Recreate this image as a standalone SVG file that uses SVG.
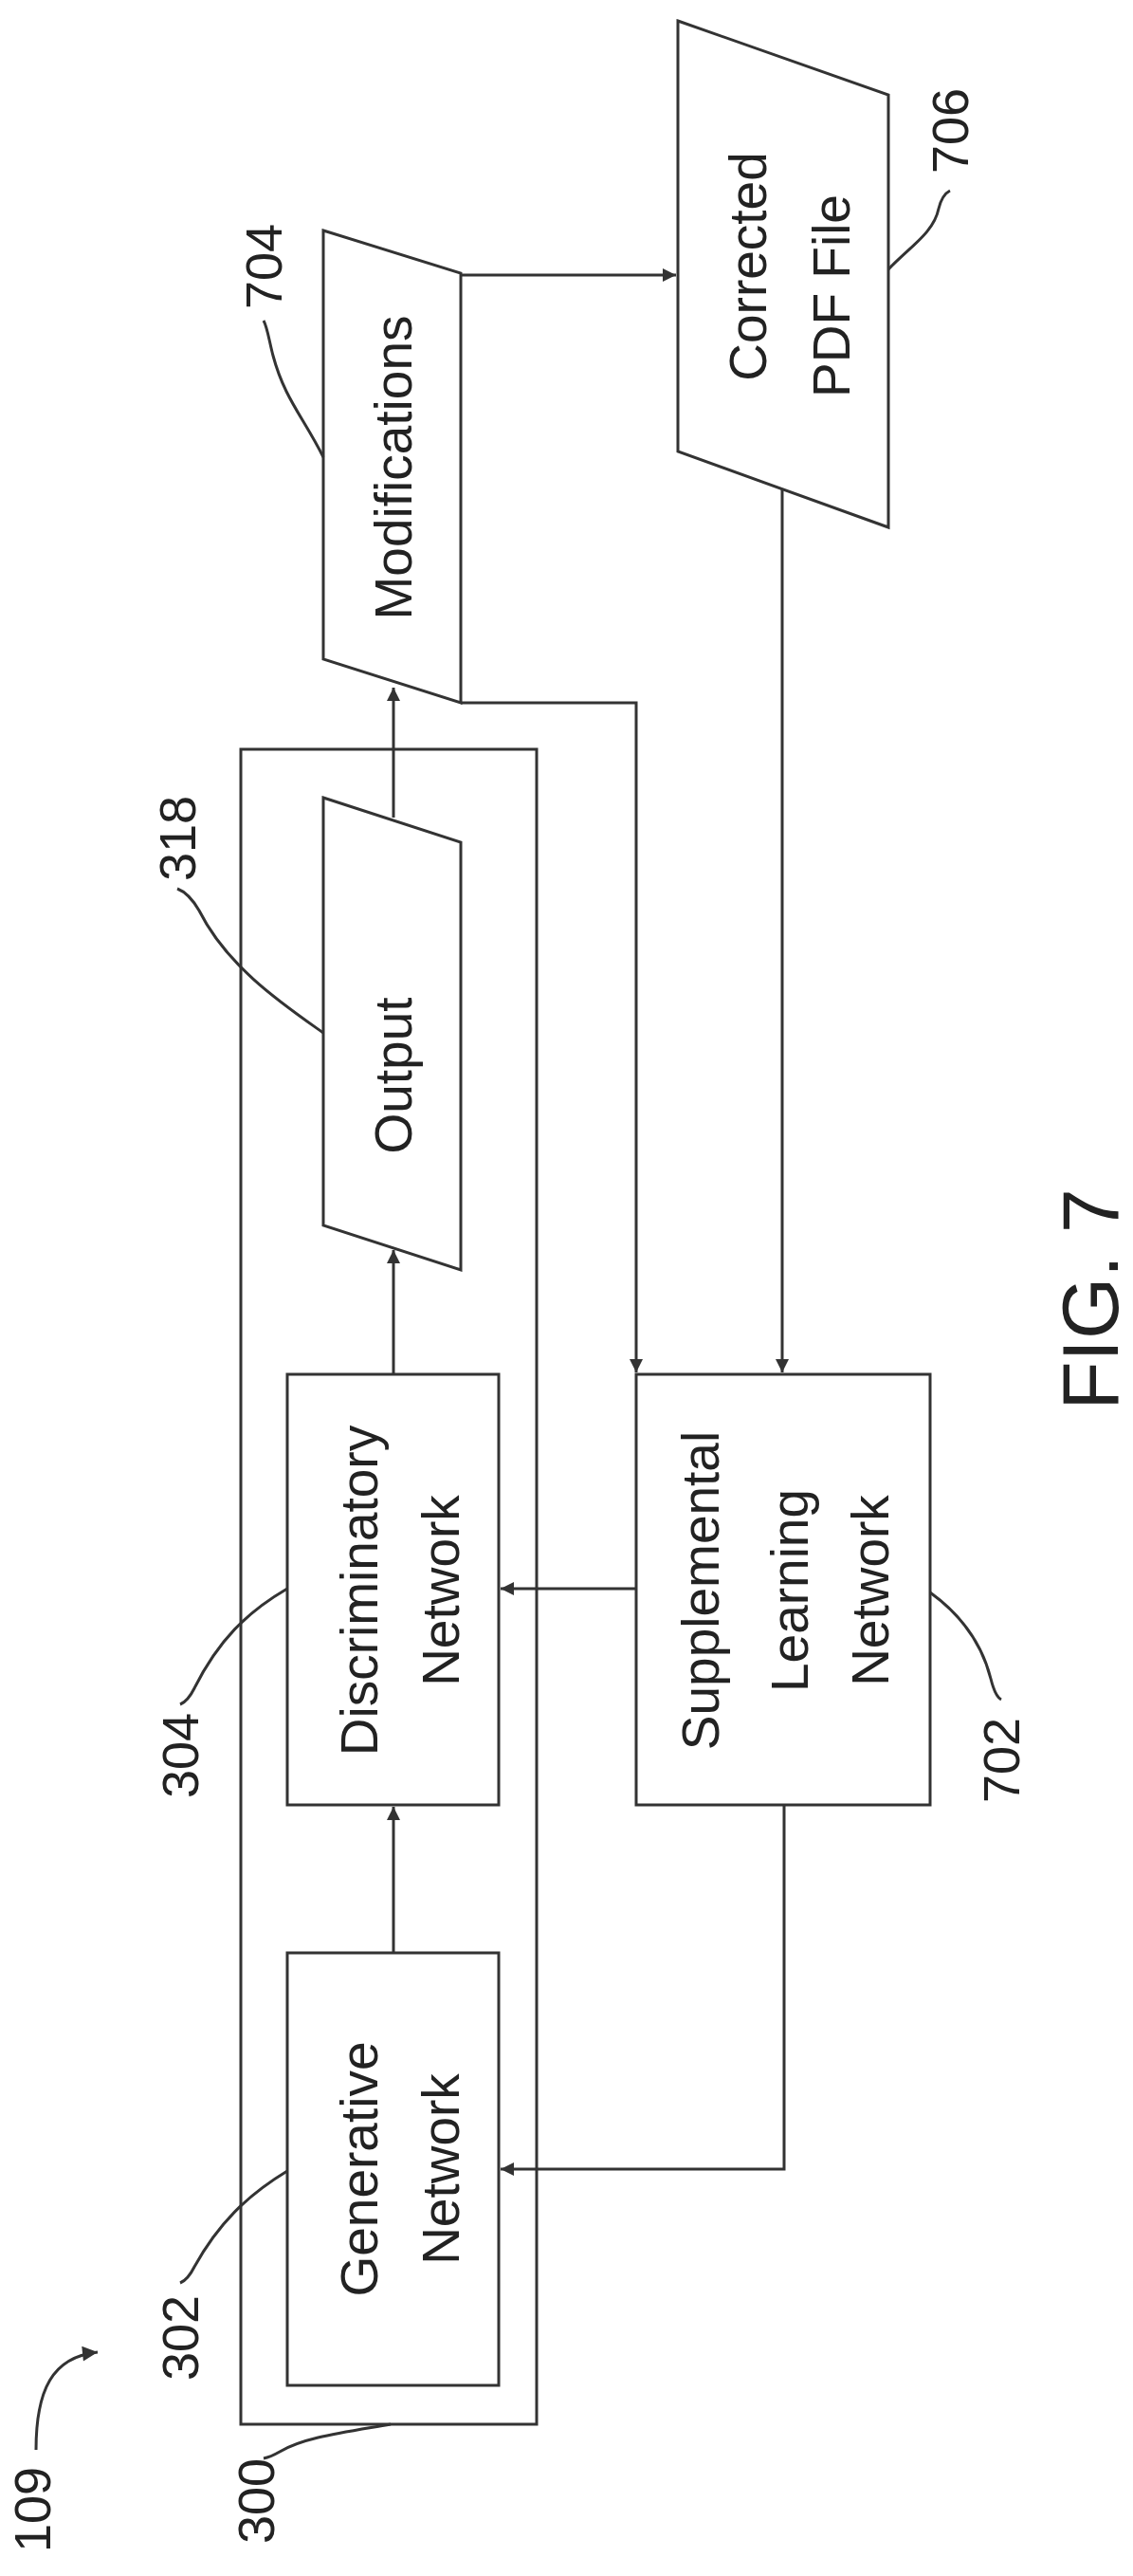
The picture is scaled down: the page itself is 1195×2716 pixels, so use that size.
<svg xmlns="http://www.w3.org/2000/svg" width="1195" height="2716" viewBox="0 0 1195 2716">
<style>
.s{fill:#fff;stroke:#333;stroke-width:3}
.l{fill:none;stroke:#333;stroke-width:3}
.t{font-family:"Liberation Sans",Arial,sans-serif;font-size:55px;fill:#222;text-anchor:middle;dominant-baseline:central}
.n{font-family:"Liberation Sans",Arial,sans-serif;font-size:54px;fill:#222;text-anchor:middle;dominant-baseline:central}
</style>
<defs>
<marker id="a" viewBox="0 0 10 10" refX="10" refY="5" markerWidth="22" markerHeight="16" orient="auto" markerUnits="userSpaceOnUse"><path d="M0,0 L10,5 L0,10 z" fill="#333"/></marker>
<marker id="b" viewBox="0 0 10 10" refX="10" refY="5" markerWidth="18" markerHeight="14" orient="auto" markerUnits="userSpaceOnUse"><path d="M0,0 L10,5 L0,10 z" fill="#333"/></marker>
</defs>
<g id="n300"><rect class="s" x="254" y="790" width="312" height="1766"/></g>
<g id="n318"><polygon class="s" points="341,841 486,888 486,1339 341,1292"/><text class="t" transform="translate(415,1134) rotate(-90)">Output</text></g>
<g id="n704"><polygon class="s" points="341,243 486,288 486,741 341,695"/><text class="t" transform="translate(415,493) rotate(-90)">Modifications</text></g>
<g id="n706"><polygon class="s" points="715,22 937,100 937,556 715,476"/><text class="t" transform="translate(789,281) rotate(-90)">Corrected</text><text class="t" transform="translate(877,312) rotate(-90)">PDF File</text></g>
<g id="n304"><rect class="s" x="303" y="1449" width="223" height="454"/><text class="t" transform="translate(379,1677) rotate(-90)">Discriminatory</text><text class="t" transform="translate(465,1677) rotate(-90)">Network</text></g>
<g id="n302"><rect class="s" x="303" y="2059" width="223" height="456"/><text class="t" transform="translate(379,2287) rotate(-90)">Generative</text><text class="t" transform="translate(465,2287) rotate(-90)">Network</text></g>
<g id="n702"><rect class="s" x="671" y="1449" width="310" height="454"/><text class="t" transform="translate(739,1677) rotate(-90)">Supplemental</text><text class="t" transform="translate(833,1677) rotate(-90)">Learning</text><text class="t" transform="translate(918,1677) rotate(-90)">Network</text></g>
<g id="connectors">
<path class="l" d="M415,2059 V1905" marker-end="url(#b)"/>
<path class="l" d="M415,1449 V1318" marker-end="url(#b)"/>
<path class="l" d="M415,862 V725" marker-end="url(#b)"/>
<path class="l" d="M486,290 H713" marker-end="url(#b)"/>
<path class="l" d="M486,741 H671 V1447" marker-end="url(#b)"/>
<path class="l" d="M825,516 V1447" marker-end="url(#b)"/>
<path class="l" d="M671,1675 H528" marker-end="url(#b)"/>
<path class="l" d="M827,1903 V2287 H528" marker-end="url(#b)"/>
</g>
<g id="labels">
<path class="l" d="M341,482 C320,440 300,420 288,375 C284,360 282,345 278,338"/>
<text class="n" transform="translate(278,281) rotate(-90)">704</text>
<path class="l" d="M341,1089 C300,1060 240,1020 210,960 C203,948 195,940 187,937"/>
<text class="n" transform="translate(187,884) rotate(-90)">318</text>
<path class="l" d="M937,284 C960,260 985,245 990,220 C993,208 998,203 1002,201"/>
<text class="n" transform="translate(1002,138) rotate(-90)">706</text>
<path class="l" d="M303,1675 C260,1700 230,1730 205,1780 C200,1790 195,1795 190,1797"/>
<text class="n" transform="translate(190,1851) rotate(-90)">304</text>
<path class="l" d="M303,2289 C260,2315 230,2345 205,2390 C200,2400 195,2405 190,2407"/>
<text class="n" transform="translate(190,2465) rotate(-90)">302</text>
<path class="l" d="M412,2556 C360,2565 320,2570 295,2585 C288,2589 283,2591 278,2592"/>
<text class="n" transform="translate(270,2637) rotate(-90)">300</text>
<path class="l" d="M981,1679 C1010,1700 1035,1730 1045,1770 C1048,1782 1052,1790 1056,1792"/>
<text class="n" transform="translate(1056,1856) rotate(-90)">702</text>
<path class="l" d="M38,2583 C38,2520 55,2485 103,2480" marker-end="url(#a)"/>
<text class="n" transform="translate(34,2646) rotate(-90)">109</text>
<text transform="translate(1150,1370) rotate(-90)" style="font-family:'Liberation Sans',Arial,sans-serif;font-size:84px;fill:#222;text-anchor:middle;dominant-baseline:central">FIG. 7</text>
</g>
</svg>
